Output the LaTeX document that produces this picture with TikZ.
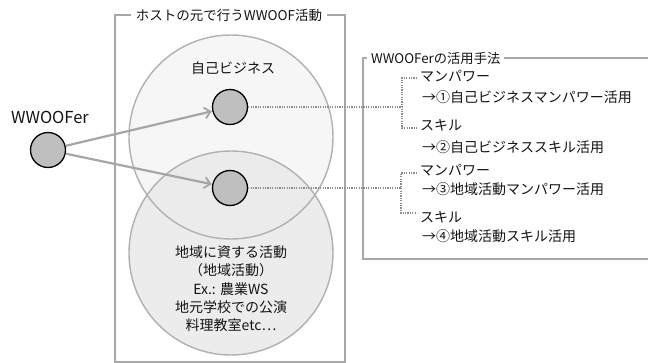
\documentclass[tikz,border=0pt]{standalone}
\usepackage{fontspec}
\setmainfont{Noto Sans CJK JP}
\usetikzlibrary{arrows.meta}
\definecolor{framegray}{HTML}{A8A8A8}
\definecolor{circline}{HTML}{B0B0B0}
\definecolor{bizfill}{HTML}{F6F6F6}
\definecolor{locfill}{HTML}{EAEAEA}
\definecolor{dotfill}{HTML}{BFBFBF}
\definecolor{arrowgray}{HTML}{A6A6A6}
\definecolor{dotgray}{HTML}{8C8C8C}
\definecolor{txt}{HTML}{141414}
\tikzset{
  frameline/.style={draw=framegray, line width=1.2pt},
  frametitle/.style={fill=white, inner xsep=5pt, inner ysep=2pt, text=txt, font=\fontsize{13.5}{16}\selectfont},
  bigc/.style={circle, minimum size=204pt, inner sep=0pt},
  bigoutline/.style={draw=circline, line width=1.4pt},
  smallc/.style={circle, minimum size=35pt, inner sep=0pt, fill=dotfill, draw=black, line width=1.3pt},
  flow/.style={draw=arrowgray, line width=2.2pt, -{Straight Barb[length=6pt,width=11pt,line width=1.8pt]}, shorten >=0.5pt},
  dotline/.style={draw=dotgray, line width=1.2pt, dash pattern=on 1.2pt off 1.2pt},
  lbl/.style={text=txt, inner sep=0pt, font=\fontsize{14}{16}\selectfont},
  item/.style={lbl, anchor=west},
}
\begin{document}
\begin{tikzpicture}[x=1pt,y=-1pt]
\useasboundingbox (0,0) rectangle (648,363);
% left frame
\draw[frameline] (115,15) rectangle (345,362);
\node[frametitle] (hosttitle) at (229,15) {ホストの元で行うWWOOF活動};
% right frame
\draw[frameline] (655,58) -- (363,58) -- (363,259) -- (655,259);
\node[frametitle, anchor=west, inner xsep=4pt, font=\fontsize{13.3}{15}\selectfont] (usetitle) at (367,58) {WWOOFerの活用手法};
% big circles
\node[bigc, fill=bizfill] (biz) at (231,137) {};
\node[bigc, fill=locfill, fill opacity=0.9] (loc) at (231,253) {};
\draw[bigoutline] (biz.center) circle[radius=102pt];
\draw[bigoutline] (loc.center) circle[radius=102pt];
\node[lbl] (bizlabel) at (233,68) {自己ビジネス};
\node[lbl, align=center, font=\fontsize{14}{18.3}\selectfont] (loclabel) at (231,289) {地域に資する活動\\（地域活動）\\Ex.: 農業WS\\地元学校での公演\\料理教室etc…};
% WWOOFer
\node[lbl, font=\fontsize{16.5}{19}\selectfont] (wlabel) at (50,117) {WWOOFer};
\node[smallc] (w) at (48,150) {};
\node[smallc] (s1) at (230,107) {};
\node[smallc] (s2) at (230,188) {};
\draw[flow] (w) -- (s1);
\draw[flow] (w) -- (s2);
% right items
\node[item] (m1) at (420,76) {マンパワー};
\node[item] (r1) at (422,97) {→①自己ビジネスマンパワー活用};
\node[item] (k1) at (420,125) {スキル};
\node[item] (r2) at (422,147) {→②自己ビジネススキル活用};
\node[item] (m2) at (420,170) {マンパワー};
\node[item] (r3) at (422,189) {→③地域活動マンパワー活用};
\node[item] (k2) at (420,217) {スキル};
\node[item] (r4) at (422,236) {→④地域活動スキル活用};
% dotted connectors
\coordinate (b1) at (402,107);
\coordinate (b2) at (401,188);
\draw[dotline] (s1.east) -- (b1);
\draw[dotline] (s2.east) -- (b2);
\draw[dotline] ([xshift=-3pt,yshift=-2pt]m1.west) -| (402,128) -- ([xshift=-3pt]k1.west |- 0,128);
\draw[dotline] ([xshift=-3pt,yshift=-3pt]m2.west) -| (401,213) -- ([xshift=-3pt]k2.west |- 0,213);
\end{tikzpicture}
\end{document}
